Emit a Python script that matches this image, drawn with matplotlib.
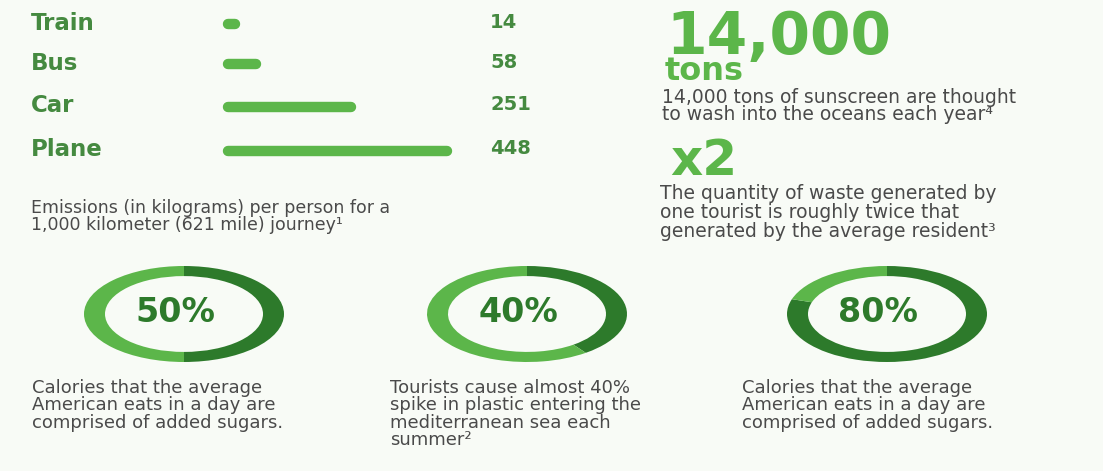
import matplotlib.pyplot as plt

# data
modes = ["Train", "Bus", "Car", "Plane"]
emissions = [14, 58, 251, 448]
donut_pcts = [50, 40, 80]
donut_captions = [
    "Calories that the average\nAmerican eats in a day are\ncomprised of added sugars.",
    "Tourists cause almost 40%\nspike in plastic entering the\nmediterranean sea each\nsummer\u00b2",
    "Calories that the average\nAmerican eats in a day are\ncomprised of added sugars.",
]

bg = "#f8fbf6"
light = "#5cb64a"
dark = "#2d7a2b"
label_col = "#458a40"
gray = "#4a4a4a"
W, H = 1103, 471

fig = plt.figure(figsize=(W / 100, H / 100), dpi=100, facecolor=bg)

# full-figure axes in pixel coordinates for text
ax = fig.add_axes([0, 0, 1, 1])
ax.set_xlim(0, W)
ax.set_ylim(H, 0)
ax.axis("off")

# bars
row_y = [24, 64, 107, 151]
bx = fig.add_axes([228 / W, 0, (447 - 228) / W, 1])
bx.set_xlim(0, max(emissions))
bx.set_ylim(H, 0)
bx.axis("off")
for name, val, y in zip(modes, emissions, row_y):
    bx.plot([0, val], [y, y], color=light, lw=7.5, solid_capstyle="round", clip_on=False)
    ax.text(31, y - 1, name, fontsize=16.5, fontweight="bold", color=label_col,
            va="center", ha="left", family="DejaVu Sans")
    ax.text(490, y - 2, str(val), fontsize=14, fontweight="bold", color=label_col,
            va="center", ha="left", family="DejaVu Sans")

ax.text(31, 199, "Emissions (in kilograms) per person for a\n1,000 kilometer (621 mile) journey\u00b9",
        fontsize=12.5, color=gray, va="top", ha="left", linespacing=0.95,
        family="DejaVu Sans")

# right side stats
ax.text(666, 54, "14,000", fontsize=42, fontweight="bold", color=light,
        va="baseline", ha="left", family="DejaVu Sans")
ax.text(665, 80, "tons", fontsize=23, fontweight="bold", color=light,
        va="baseline", ha="left", family="DejaVu Sans")
ax.text(662, 88, "14,000 tons of sunscreen are thought\nto wash into the oceans each year\u2074",
        fontsize=13.5, color=gray, va="top", ha="left", linespacing=0.9,
        family="DejaVu Sans")
ax.text(670, 175, "x2", fontsize=36, fontweight="bold", color=light,
        va="baseline", ha="left", family="DejaVu Sans")
ax.text(660, 184, "The quantity of waste generated by\none tourist is roughly twice that\ngenerated by the average resident\u00b3",
        fontsize=13.5, color=gray, va="top", ha="left", linespacing=1.0,
        family="DejaVu Sans")

# donuts (stretched horizontally like the reference)
centers = [184, 527, 887]
cap_x = [32, 390, 742]
rx, ry, cy = 100, 48, 314
for cx, pct, cap, tx in zip(centers, donut_pcts, donut_captions, cap_x):
    dax = fig.add_axes([(cx - rx) / W, (H - cy - ry) / H, 2 * rx / W, 2 * ry / H])
    dax.pie([pct, 100 - pct], colors=[dark, light], startangle=90, counterclock=False,
            radius=1, wedgeprops=dict(width=0.21, linewidth=0))
    dax.set_xlim(-1, 1)
    dax.set_ylim(-1, 1)
    dax.set_aspect("auto")
    dax.axis("off")
    ax.text(cx - 9, 312, f"{pct}%", fontsize=24, fontweight="bold", color=dark,
            va="center", ha="center", family="DejaVu Sans")
    ax.text(tx, 379, cap, fontsize=13, color=gray, va="top", ha="left",
            linespacing=0.95, family="DejaVu Sans")

fig.savefig("out.png", dpi=100, facecolor=bg)
